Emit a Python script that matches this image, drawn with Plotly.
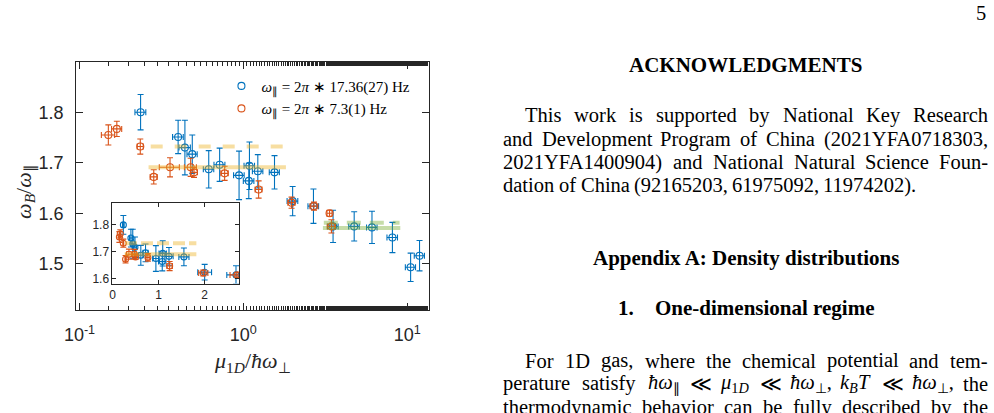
import plotly.graph_objects as go

# ---------------- data ----------------
blue_x = [0.236, 0.40, 0.44, 0.488, 0.615, 0.717, 0.942, 1.09, 1.08, 1.226, 1.55,
          2.0, 2.68, 3.53, 4.75, 6.1, 8.13, 10.5, 11.9]
blue_y = [1.800, 1.751, 1.730, 1.717, 1.687, 1.696, 1.675, 1.694, 1.664, 1.683, 1.681,
          1.624, 1.614, 1.574, 1.574, 1.572, 1.552, 1.493, 1.516]
blue_yerr = [0.035, 0.033, 0.054, 0.038, 0.037, 0.033, 0.048, 0.047, 0.035, 0.033, 0.033,
             0.029, 0.034, 0.032, 0.029, 0.032, 0.030, 0.028, 0.030]
blue_xerr = [0.018, 0.03, 0.035, 0.035, 0.045, 0.055, 0.07, 0.08, 0.08, 0.09, 0.11,
             0.15, 0.2, 0.26, 0.35, 0.45, 0.6, 0.75, 0.85]

red_x = [0.150, 0.169, 0.235, 0.284, 0.357, 0.477, 0.50, 0.769, 1.24, 1.97, 2.70, 3.36, 3.45]
red_y = [1.755, 1.767, 1.732, 1.672, 1.691, 1.691, 1.681, 1.679, 1.647, 1.621, 1.614, 1.600, 1.574]
red_yerr = [0.020, 0.015, 0.015, 0.014, 0.019, 0.018, 0.010, 0.014, 0.017, 0.011, 0.008, 0.006, 0.013]
red_xerr = [0.014, 0.012, 0.010, 0.014, 0.05, 0.04, 0.025, 0.04, 0.06, 0.10, 0.15, 0.12, 0.2]

yellow_dash_x = [0.272, 1.82]
yellow_dash_y = [1.732, 1.732]
yellow_solid_x = [0.264, 1.82]
yellow_solid_y = [1.691, 1.691]
green_solid_x = [3.06, 9.08]
green_solid_y = [1.571, 1.571]
green_dash_x = [3.1, 8.99]
green_dash_y = [1.581, 1.581]

legend_labels = ["<i>ω</i><sub>∥</sub> = 2<i>π</i> ∗ 17.36(27) Hz",
                 "<i>ω</i><sub>∥</sub> = 2<i>π</i> ∗ 7.3(1) Hz"]
main_xtick_vals = [0.1, 1, 10]
main_xtick_text = ["10<sup>-1</sup>", "10<sup>0</sup>", "10<sup>1</sup>"]
main_ytick_vals = [1.5, 1.6, 1.7, 1.8]
inset_xtick_vals = [0, 1, 2]
inset_ytick_vals = [1.6, 1.7, 1.8]

page_number = "5"
heading_ack = "ACKNOWLEDGMENTS"
ack_lines = ["This work is supported by National Key Research",
             "and Development Program of China (2021YFA0718303,",
             "2021YFA1400904) and National Natural Science Foun-",
             "dation of China (92165203, 61975092, 11974202)."]
heading_app = "Appendix A: Density distributions"
sub_num = "1."
sub_title = "One-dimensional regime"
p2_line1 = "For 1D gas, where the chemical potential and tem-"
p2_line2 = [("perature", None), ("satisfy", None),
            ("<i>ħω</i><sub>∥</sub>", 1.45), ("≪", 0.85),
            ("<i>μ</i><sub>1<i>D</i></sub>", 1.35), ("≪", 0.85),
            ("<i>ħω</i><sub>⊥</sub>,", 1.85), ("<i>k</i><sub><i>B</i></sub><i>T</i>", 1.45),
            ("≪", 0.85), ("<i>ħω</i><sub>⊥</sub>,", 1.85), ("the", None)]
p2_line3 = "thermodynamic behavior can be fully described by the"

# ---------------- styling ----------------
W, H = 994, 413
BLUE = "#0072BD"
RED = "#D95319"
AX = "#262626"
YEL = "rgba(237,177,32,0.42)"
GRN = "rgba(119,172,48,0.42)"

def px_x(p):
    return p / W

def px_y(p):
    return 1 - p / H

main_dom_x = [px_x(65), px_x(421.7)]
main_dom_y = [px_y(312), px_y(62)]
ins_dom_x = [px_x(101.7), px_x(230)]
ins_dom_y = [px_y(285), px_y(204)]

fig = go.Figure()

def add_series(xa, ya, x, y, xe, ye, color, name, show, msize):
    fig.add_trace(go.Scatter(
        x=x, y=y, mode="markers", name=name, showlegend=show,
        xaxis=xa, yaxis=ya,
        marker=dict(symbol="circle-open", size=msize, color=color, line=dict(width=1.1, color=color)),
        error_y=dict(type="data", array=ye, visible=True, color=color, thickness=1.1, width=3),
        error_x=dict(type="data", array=xe, visible=True, color=color, thickness=1.1, width=3),
    ))

def add_band(xa, ya, x, y, color, dash):
    fig.add_trace(go.Scatter(x=x, y=y, mode="lines", showlegend=False, xaxis=xa, yaxis=ya,
                             line=dict(color=color, width=4, dash=dash), hoverinfo="skip"))

# main
add_series("x", "y", blue_x, blue_y, blue_xerr, blue_yerr, BLUE, legend_labels[0], True, 7)
add_series("x", "y", red_x, red_y, red_xerr, red_yerr, RED, legend_labels[1], True, 7)
add_band("x", "y", yellow_dash_x, yellow_dash_y, YEL, "12px,12px")
add_band("x", "y", yellow_solid_x, yellow_solid_y, YEL, "solid")
add_band("x", "y", green_solid_x, green_solid_y, GRN, "solid")
add_band("x", "y", green_dash_x, green_dash_y, GRN, "14px,9px")
# inset
add_series("x2", "y2", blue_x, blue_y, blue_xerr, blue_yerr, BLUE, legend_labels[0], False, 6)
add_series("x2", "y2", red_x, red_y, red_xerr, red_yerr, RED, legend_labels[1], False, 6)
add_band("x2", "y2", yellow_dash_x, yellow_dash_y, YEL, "12px,4px")
add_band("x2", "y2", yellow_solid_x, yellow_solid_y, YEL, "solid")

tickfont = dict(family="Liberation Sans, Arial, sans-serif", size=18, color=AX)
insfont = dict(family="Liberation Sans, Arial, sans-serif", size=12, color=AX)

fig.update_layout(
    width=W, height=H, margin=dict(l=0, r=0, t=0, b=0),
    paper_bgcolor="white", plot_bgcolor="white",
    xaxis=dict(domain=main_dom_x, type="log", range=[-1.02, 1.131],
               tickvals=main_xtick_vals, ticktext=main_xtick_text,
               ticks="inside", ticklen=7, tickcolor=AX, showline=True, linecolor=AX, linewidth=1,
               mirror="ticks", showgrid=False, zeroline=False, tickfont=tickfont,
               ticklabelstandoff=8,
               minor=dict(ticks="inside", ticklen=4, tickcolor=AX, showgrid=False)),
    yaxis=dict(domain=main_dom_y, range=[1.4075, 1.90], tickvals=main_ytick_vals,
               ticks="inside", ticklen=7, tickcolor=AX, showline=True, linecolor=AX, linewidth=1,
               mirror="ticks", showgrid=False, zeroline=False, tickfont=tickfont,
               ticklabelstandoff=8),
    xaxis2=dict(domain=ins_dom_x, range=[0, 2.75], tickvals=inset_xtick_vals, anchor="y2",
                ticks="inside", ticklen=4, tickcolor=AX, showline=True, linecolor=AX, linewidth=1,
                mirror="ticks", showgrid=False, zeroline=False, tickfont=insfont),
    yaxis2=dict(domain=ins_dom_y, range=[1.5815, 1.8815], tickvals=inset_ytick_vals, anchor="x2",
                ticks="inside", ticklen=4, tickcolor=AX, showline=True, linecolor=AX, linewidth=1,
                mirror="ticks", showgrid=False, zeroline=False, tickfont=insfont),
    legend=dict(x=px_x(212), y=px_y(70), xanchor="left", yanchor="top",
                bgcolor="rgba(0,0,0,0)", borderwidth=0,
                font=dict(family="Liberation Serif, serif", size=15, color="black"),
                tracegroupgap=0, itemwidth=30),
)

fig.add_shape(type="rect", xref="paper", yref="paper",
              x0=ins_dom_x[0], x1=ins_dom_x[1], y0=ins_dom_y[0], y1=ins_dom_y[1],
              fillcolor="white", line=dict(width=0), layer="below")

SERIF = "Liberation Serif, Times New Roman, serif"

# axis titles
fig.add_annotation(x=px_x(243), y=px_y(364), xref="paper", yref="paper", showarrow=False,
                   xanchor="center", yanchor="middle",
                   text="<i>μ</i><sub>1<i>D</i></sub>/<i>ħω</i><sub>⊥</sub>",
                   font=dict(family=SERIF, size=22, color=AX))
fig.add_annotation(x=px_x(13), y=px_y(192), xref="paper", yref="paper", showarrow=False,
                   xanchor="center", yanchor="middle",
                   text="<i>ω</i><sub><i>B</i></sub>/<i>ω</i><sub>∥</sub>", textangle=-90,
                   font=dict(family=SERIF, size=22, color=AX))

# ---------------- right column text ----------------
TW = {' ': 250, '!': 333, '(': 333, ')': 333, ',': 250, '-': 333, '.': 250, ':': 278, ';': 278,
      'A': 722, 'B': 667, 'C': 667, 'D': 722, 'E': 611, 'F': 556, 'G': 722, 'H': 722, 'I': 333,
      'J': 389, 'K': 722, 'L': 611, 'M': 889, 'N': 722, 'O': 722, 'P': 556, 'Q': 722, 'R': 667,
      'S': 556, 'T': 611, 'U': 722, 'V': 722, 'W': 944, 'X': 722, 'Y': 722, 'Z': 611,
      'a': 444, 'b': 500, 'c': 444, 'd': 500, 'e': 444, 'f': 333, 'g': 500, 'h': 500, 'i': 278,
      'j': 278, 'k': 500, 'l': 278, 'm': 778, 'n': 500, 'o': 500, 'p': 500, 'q': 500, 'r': 333,
      's': 389, 't': 278, 'u': 500, 'v': 500, 'w': 722, 'x': 500, 'y': 500, 'z': 444}
for d in "0123456789":
    TW[d] = 500

FS = 20.5
LEFT, RIGHT, INDENT = 497.3, 987.3, 519.3

def word_em(w):
    return sum(TW.get(c, 500) for c in w) / 1000.0

def add_text(x, ypx, text, size=FS, bold=False, anchor="left"):
    t = "<b>%s</b>" % text if bold else text
    fig.add_annotation(x=px_x(x), y=px_y(ypx), xref="paper", yref="paper", showarrow=False,
                       xanchor=anchor, yanchor="middle", text=t, borderpad=0, borderwidth=0,
                       font=dict(family=SERIF, size=size, color="black"))

def place_line(words, x0, x1, ypx, justify=True):
    items = []
    for w in words:
        if isinstance(w, tuple):
            html, em = w
            if em is None:
                em = word_em(html)
            items.append((html, em * FS))
        else:
            items.append((w, word_em(w) * FS))
    total = sum(wd for _, wd in items)
    gap = (x1 - x0 - total) / (len(items) - 1) if justify else 0.25 * FS
    x = x0
    for html, wd in items:
        add_text(x, ypx, html)
        x += wd + gap

add_text(RIGHT - 1, 13, page_number, anchor="right")
add_text(742.4, 65.7, heading_ack, size=21, bold=True, anchor="center")
place_line(ack_lines[0].split(), INDENT, RIGHT, 115.8)
place_line(ack_lines[1].split(), LEFT, RIGHT, 139.8)
place_line(ack_lines[2].split(), LEFT, RIGHT, 163.1)
place_line(ack_lines[3].split(), LEFT, RIGHT, 186.4, justify=False)
add_text(742.8, 258.9, heading_app, size=21, bold=True, anchor="center")
add_text(613, 309.6, sub_num, size=21, bold=True)
add_text(650.7, 309.6, sub_title, size=21, bold=True)
place_line(p2_line1.split(), INDENT, RIGHT, 362.4)
place_line(p2_line2, LEFT, RIGHT, 385.8)
place_line(p2_line3.split(), LEFT, RIGHT, 409.1)

fig.write_html("out.html")
